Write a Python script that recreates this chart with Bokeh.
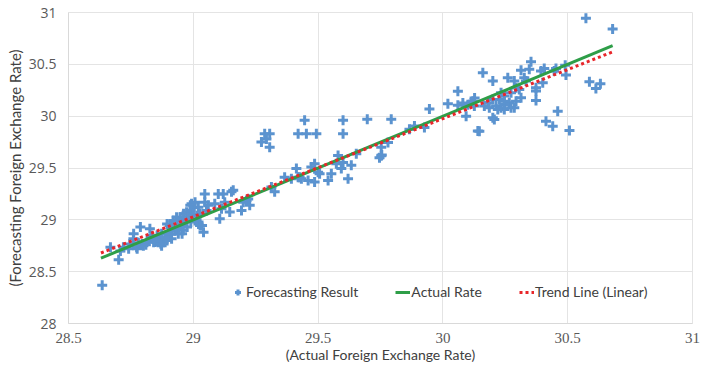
from bokeh.plotting import figure
from bokeh.models import Range1d, FixedTicker, NumeralTickFormatter
from bokeh.embed import file_html
from bokeh.resources import INLINE

# Actual vs forecast exchange rate pairs
actual_fx = [
    28.635, 28.668, 28.701, 28.708, 28.741, 28.761, 28.788, 28.775, 28.795, 28.815,
    28.835, 28.841, 28.855, 28.868, 28.881, 28.895, 28.901, 28.895, 28.915, 28.928,
    28.935, 28.948, 28.955, 28.961, 28.975, 28.988, 29.001, 29.015, 29.021, 29.035,
    28.72, 28.746, 28.76, 28.773, 28.80, 28.82, 28.833, 28.846, 28.86, 28.873,
    28.886, 28.90, 28.906, 28.92, 28.933, 28.947, 28.94, 28.913, 28.927, 28.96,
    28.973, 28.987, 28.993, 29.007, 29.02, 29.013, 29.027, 28.873, 28.826, 29.027,
    28.78, 28.81, 28.85, 28.87, 28.89, 28.91, 28.93, 28.95, 28.97, 28.98, 28.99, 29.0, 28.96, 28.99,
    29.041,
    29.046, 29.046, 29.06, 29.053, 29.086, 29.10, 29.12, 29.126, 29.113, 29.106,
    29.146, 29.153, 29.16, 29.193, 29.20, 29.22, 29.226, 29.213, 29.273, 29.286,
    29.306, 29.293, 29.306, 29.313, 29.326, 29.366, 29.393, 29.413, 29.42, 29.426,
    29.433, 29.46, 29.486, 29.42, 29.453, 29.446, 29.493, 29.473, 29.486, 29.50,
    29.506, 29.54, 29.553, 29.573, 29.58, 29.593, 29.60, 29.60, 29.62, 29.633,
    29.653, 29.60, 29.755,
    29.697, 29.753, 29.746, 29.753, 29.78, 29.793, 29.866, 29.886, 29.926, 29.946,
    30.02, 30.06, 30.06, 30.08, 30.093, 30.10, 30.113, 30.127, 30.14,
    30.573, 30.68, 30.587, 30.613, 30.631, 30.507, 30.493, 30.46, 30.44, 30.413,
    30.373, 30.353, 30.346, 30.393, 30.406, 30.453, 30.446, 30.40, 30.373, 30.313,
    30.326, 30.333, 30.306, 30.286, 30.293, 30.273, 30.26, 30.293, 30.286, 30.266,
    30.246, 30.233, 30.226, 30.213, 30.20, 30.20, 30.16, 30.18, 30.166, 30.186,
    30.20, 30.206, 30.146, 30.12, 30.126, 30.233, 30.246, 30.246, 30.373, 30.313,
    30.273, 30.246, 30.22, 30.49,
]
forecast_fx = [
    28.37, 28.735, 28.616, 28.70, 28.72, 28.865, 28.93, 28.72, 28.768, 28.80,
    28.83, 28.784, 28.848, 28.80, 28.784, 28.80, 28.865, 28.96, 28.945, 28.897,
    28.994, 29.026, 28.865, 29.058, 28.93, 29.14, 29.12, 29.04, 28.96, 28.945,
    28.736, 28.768, 28.817, 28.736, 28.75, 28.80, 28.85, 28.785, 28.817, 28.75,
    28.833, 28.88, 28.945, 28.994, 29.026, 28.96, 28.865, 28.817, 28.897, 29.01,
    29.074, 29.058, 29.154, 29.17, 29.122, 28.994, 28.945, 28.865, 28.913, 29.058,
    28.78, 28.76, 28.79, 28.77, 28.82, 28.86, 28.92, 28.95, 28.99, 29.02, 29.09, 29.05, 28.90, 28.98,
    28.88,
    29.25, 29.17, 29.14, 29.09, 29.156, 29.25, 29.25, 29.17, 29.107, 29.01,
    29.076, 29.27, 29.285, 29.09, 29.17, 29.20, 29.14, 29.186, 29.75, 29.83,
    29.83, 29.78, 29.70, 29.317, 29.27, 29.41, 29.397, 29.494, 29.41, 29.41,
    29.397, 29.38, 29.365, 29.83, 29.83, 29.96, 29.83, 29.51, 29.54, 29.46,
    29.445, 29.38, 29.445, 29.54, 29.62, 29.494, 29.83, 29.96, 29.397, 29.526,
    29.638, 29.554, 29.625,
    29.97, 29.618, 29.60, 29.70, 29.745, 29.97, 29.873, 29.904, 29.89, 30.07,
    30.12, 30.24, 30.105, 30.127, 30.0, 30.11, 30.127, 30.175, 29.857,
    30.945, 30.84, 30.332, 30.268, 30.313, 29.861, 30.397, 30.048, 29.903, 29.952,
    30.15, 30.526, 30.452, 30.435, 30.461, 30.461, 30.435, 30.323, 30.274, 30.442,
    30.371, 30.339, 30.258, 30.339, 30.274, 30.226, 30.371, 30.145, 30.081, 30.129,
    30.194, 30.226, 30.161, 30.097, 30.161, 30.339, 30.42, 30.129, 30.097, 30.081,
    29.984, 29.968, 29.855, 30.145, 30.097, 30.081, 30.113, 30.145, 30.242, 30.177,
    30.081, 30.065, 30.065, 30.49,
]
actual_line_x = [28.63, 30.68]
actual_line_y = [28.63, 30.68]
trend_line_x = [28.63, 30.68]
trend_line_y = [28.68, 30.62]
x_ticks = [28.5, 29, 29.5, 30, 30.5, 31]
y_ticks = [28, 28.5, 29, 29.5, 30, 30.5, 31]

BLUE = "#5b93cf"
GREEN = "#2e9e48"
RED = "#e8262a"
GRID = "#e4e4e4"

p = figure(frame_width=624, frame_height=311,
           x_range=Range1d(28.5, 31), y_range=Range1d(28, 31),
           output_backend="svg", toolbar_location=None,
           min_border_left=68, min_border_right=9, min_border_top=12, min_border_bottom=50)
p.outline_line_color = GRID
p.background_fill_color = "white"
p.border_fill_color = "white"

p.scatter(actual_fx, forecast_fx, marker="cross", size=10, line_width=3,
          color=BLUE, legend_label="Forecasting Result")
p.line(actual_line_x, actual_line_y, line_color=GREEN, line_width=3,
       legend_label="Actual Rate")
p.line(trend_line_x, trend_line_y, line_color=RED, line_width=3, line_dash="3 3",
       legend_label="Trend Line (Linear)")

p.xaxis.ticker = FixedTicker(ticks=x_ticks)
p.yaxis.ticker = FixedTicker(ticks=y_ticks)
p.xaxis.formatter = NumeralTickFormatter(format="0.[0]")
p.yaxis.formatter = NumeralTickFormatter(format="0.[0]")
p.xgrid.ticker = FixedTicker(ticks=x_ticks)
p.ygrid.ticker = FixedTicker(ticks=y_ticks)
p.xgrid.grid_line_color = GRID
p.ygrid.grid_line_color = GRID

for ax in (p.xaxis, p.yaxis):
    ax.axis_line_color = "#d9d9d9"
    ax.major_tick_line_color = None
    ax.minor_tick_line_color = None
    ax.major_tick_out = 0
    ax.major_tick_in = 0
    ax.major_label_text_color = "#595959"
    ax.axis_label_text_color = "#404040"
    ax.axis_label_text_font_style = "normal"

p.xaxis.major_label_text_font = "Liberation Serif"
p.xaxis.major_label_text_font_size = "15px"
p.xaxis.major_label_standoff = 9
p.yaxis.major_label_text_font = "Open Sans"
p.yaxis.major_label_text_font_size = "14px"
p.yaxis.major_label_standoff = 12

p.xaxis.axis_label = "(Actual Foreign Exchange Rate)"
p.yaxis.axis_label = "(Forecasting Foreign Exchange Rate)"
p.xaxis.axis_label_text_font = "Lato"
p.yaxis.axis_label_text_font = "Lato"
p.xaxis.axis_label_text_font_size = "14px"
p.yaxis.axis_label_text_font_size = "15px"
p.xaxis.axis_label_standoff = 0
p.yaxis.axis_label_standoff = 2

lg = p.legend[0]
lg.orientation = "horizontal"
lg.location = (162, 23)
lg.border_line_color = None
lg.background_fill_alpha = 0
lg.padding = 0
lg.margin = 0
lg.spacing = 37
lg.glyph_width = 15
lg.glyph_height = 16
lg.label_height = 16
lg.label_standoff = 1
lg.label_text_font = "Lato"
lg.label_text_font_size = "14px"
lg.label_text_color = "#404040"

open("out.html", "w").write(file_html(p, INLINE))
